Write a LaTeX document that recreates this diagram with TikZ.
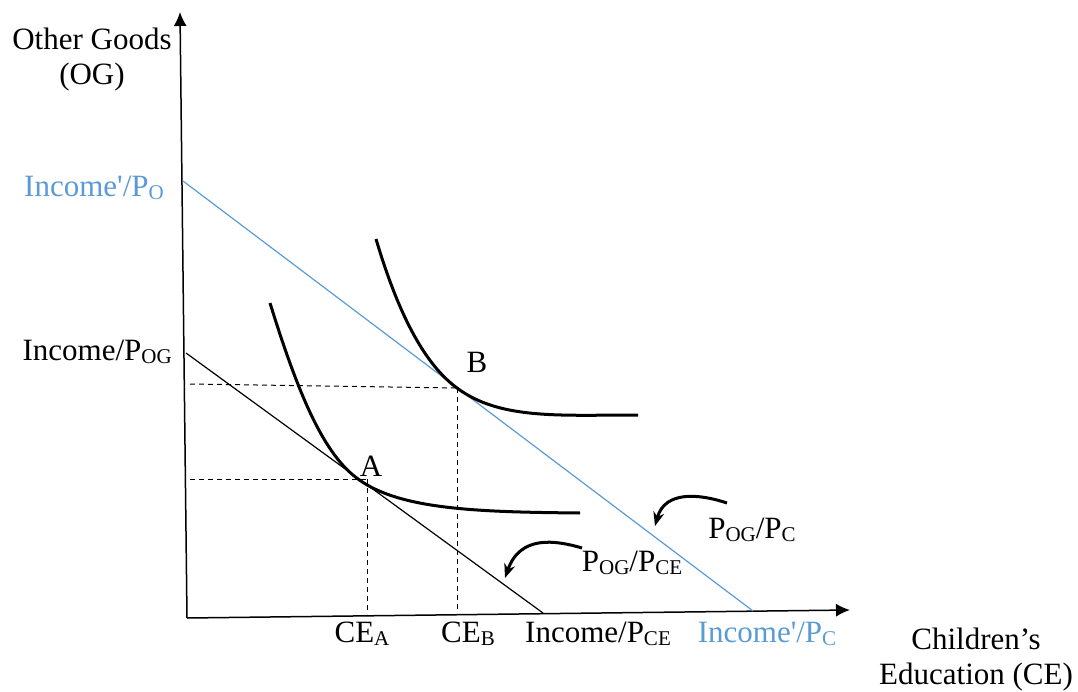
\documentclass[tikz,border=0pt]{standalone}
\usepackage{fontspec}
\setmainfont{Liberation Serif}
\usepackage{tikz}
\usetikzlibrary{arrows.meta,positioning,calc}
\definecolor{budgetblue}{HTML}{5B9BD5}
\newcommand{\lowtxt}[1]{\raisebox{-3pt}{\fontsize{21}{21}\selectfont #1}}
\tikzset{
  axis/.style={
    -{Latex[length=14pt,width=13pt]},
    line width=1.5pt,
    draw=black
  },
  budget/.style={
    line width=1.2pt,
    draw=black
  },
  newbudget/.style={
    line width=1.2pt,
    draw=budgetblue
  },
  indiff/.style={
    line width=3pt,
    draw=black
  },
  guide/.style={
    dashed,
    dash pattern=on 5pt off 4pt,
    line width=1pt
  },
  pointer/.style={
    -{Stealth[length=14pt,width=11pt]},
    line width=3pt
  },
  lbl/.style={
    font=\fontsize{31}{35}\selectfont,
    inner sep=0pt,
    align=center
  }
}

\begin{document}
\begin{tikzpicture}[x=1pt,y=-1pt]
\useasboundingbox (0,0) rectangle (1078,692);
% axes
\coordinate (origin) at (187,618);
\coordinate (ytop) at (180,12);
\coordinate (xend) at (850,610);
\draw[axis] (origin) -- (ytop);
\draw[axis] (origin) -- (xend);
\node[lbl] (ylab) at (92,60) {Other Goods\\(OG)};
\node[lbl] (xlab) at (976,660) {Children’s\\Education (CE)};

% budget lines
\coordinate (ogold) at (186,353);
\coordinate (ceold) at (543,613);
\coordinate (ognew) at (183,181);
\coordinate (cenew) at (753,611);
\draw[budget] (ogold) -- (ceold);
\draw[newbudget] (ognew) -- (cenew);
\node[lbl, anchor=east] (ogoldlab) at (172,352) {Income/P\lowtxt{OG}};
\node[lbl, anchor=east, text=budgetblue] (ognewlab) at (164,188) {Income\textquotesingle/P\lowtxt{O}};
\node[lbl] (ceoldlab) at (598,634) {Income/P\lowtxt{CE}};
\node[lbl, text=budgetblue] (cenewlab) at (767,634) {Income\textquotesingle/P\lowtxt{C}};

% optimum points
\coordinate (ptA) at (358,479);
\coordinate (ptB) at (457,388);
\node[lbl] (labA) at (371,466) {A};
\node[lbl] (labB) at (477,362) {B};

% indifference curves
\draw[indiff] (270,303) .. controls (300,400) and (325,455) .. (ptA)
  .. controls (400,510) and (480,512) .. (580,513);
\draw[indiff] (376,239) .. controls (400,320) and (427,366) .. (ptB)
  .. controls (500,420) and (560,415) .. (638,415);

% dashed guides
\coordinate (yA) at (190,479);
\coordinate (xA) at (367,614);
\coordinate (yB) at (190,384);
\coordinate (xB) at (457,612);
\draw[guide] (yA) -- (ptA -| xA);
\draw[guide] (ptA -| xA) -- (xA);
\draw[guide] (yB) -- (ptB);
\draw[guide] (ptB) -- (xB);
\node[lbl] (labCEA) at (362,634) {CE\lowtxt{A}};
\node[lbl] (labCEB) at (468,634) {CE\lowtxt{B}};

% slope labels
\node[lbl] (slopenew) at (752,530) {P\lowtxt{OG}/P\lowtxt{C}};
\node[lbl] (slopeold) at (632,563) {P\lowtxt{OG}/P\lowtxt{CE}};
\coordinate (tipnew) at (655,526);
\coordinate (tipold) at (505,578);
\draw[pointer] (727,503) .. controls (700,494) and (665,490) .. (tipnew);
\draw[pointer] (582,548) .. controls (555,540) and (520,535) .. (tipold);
\end{tikzpicture}
\end{document}
